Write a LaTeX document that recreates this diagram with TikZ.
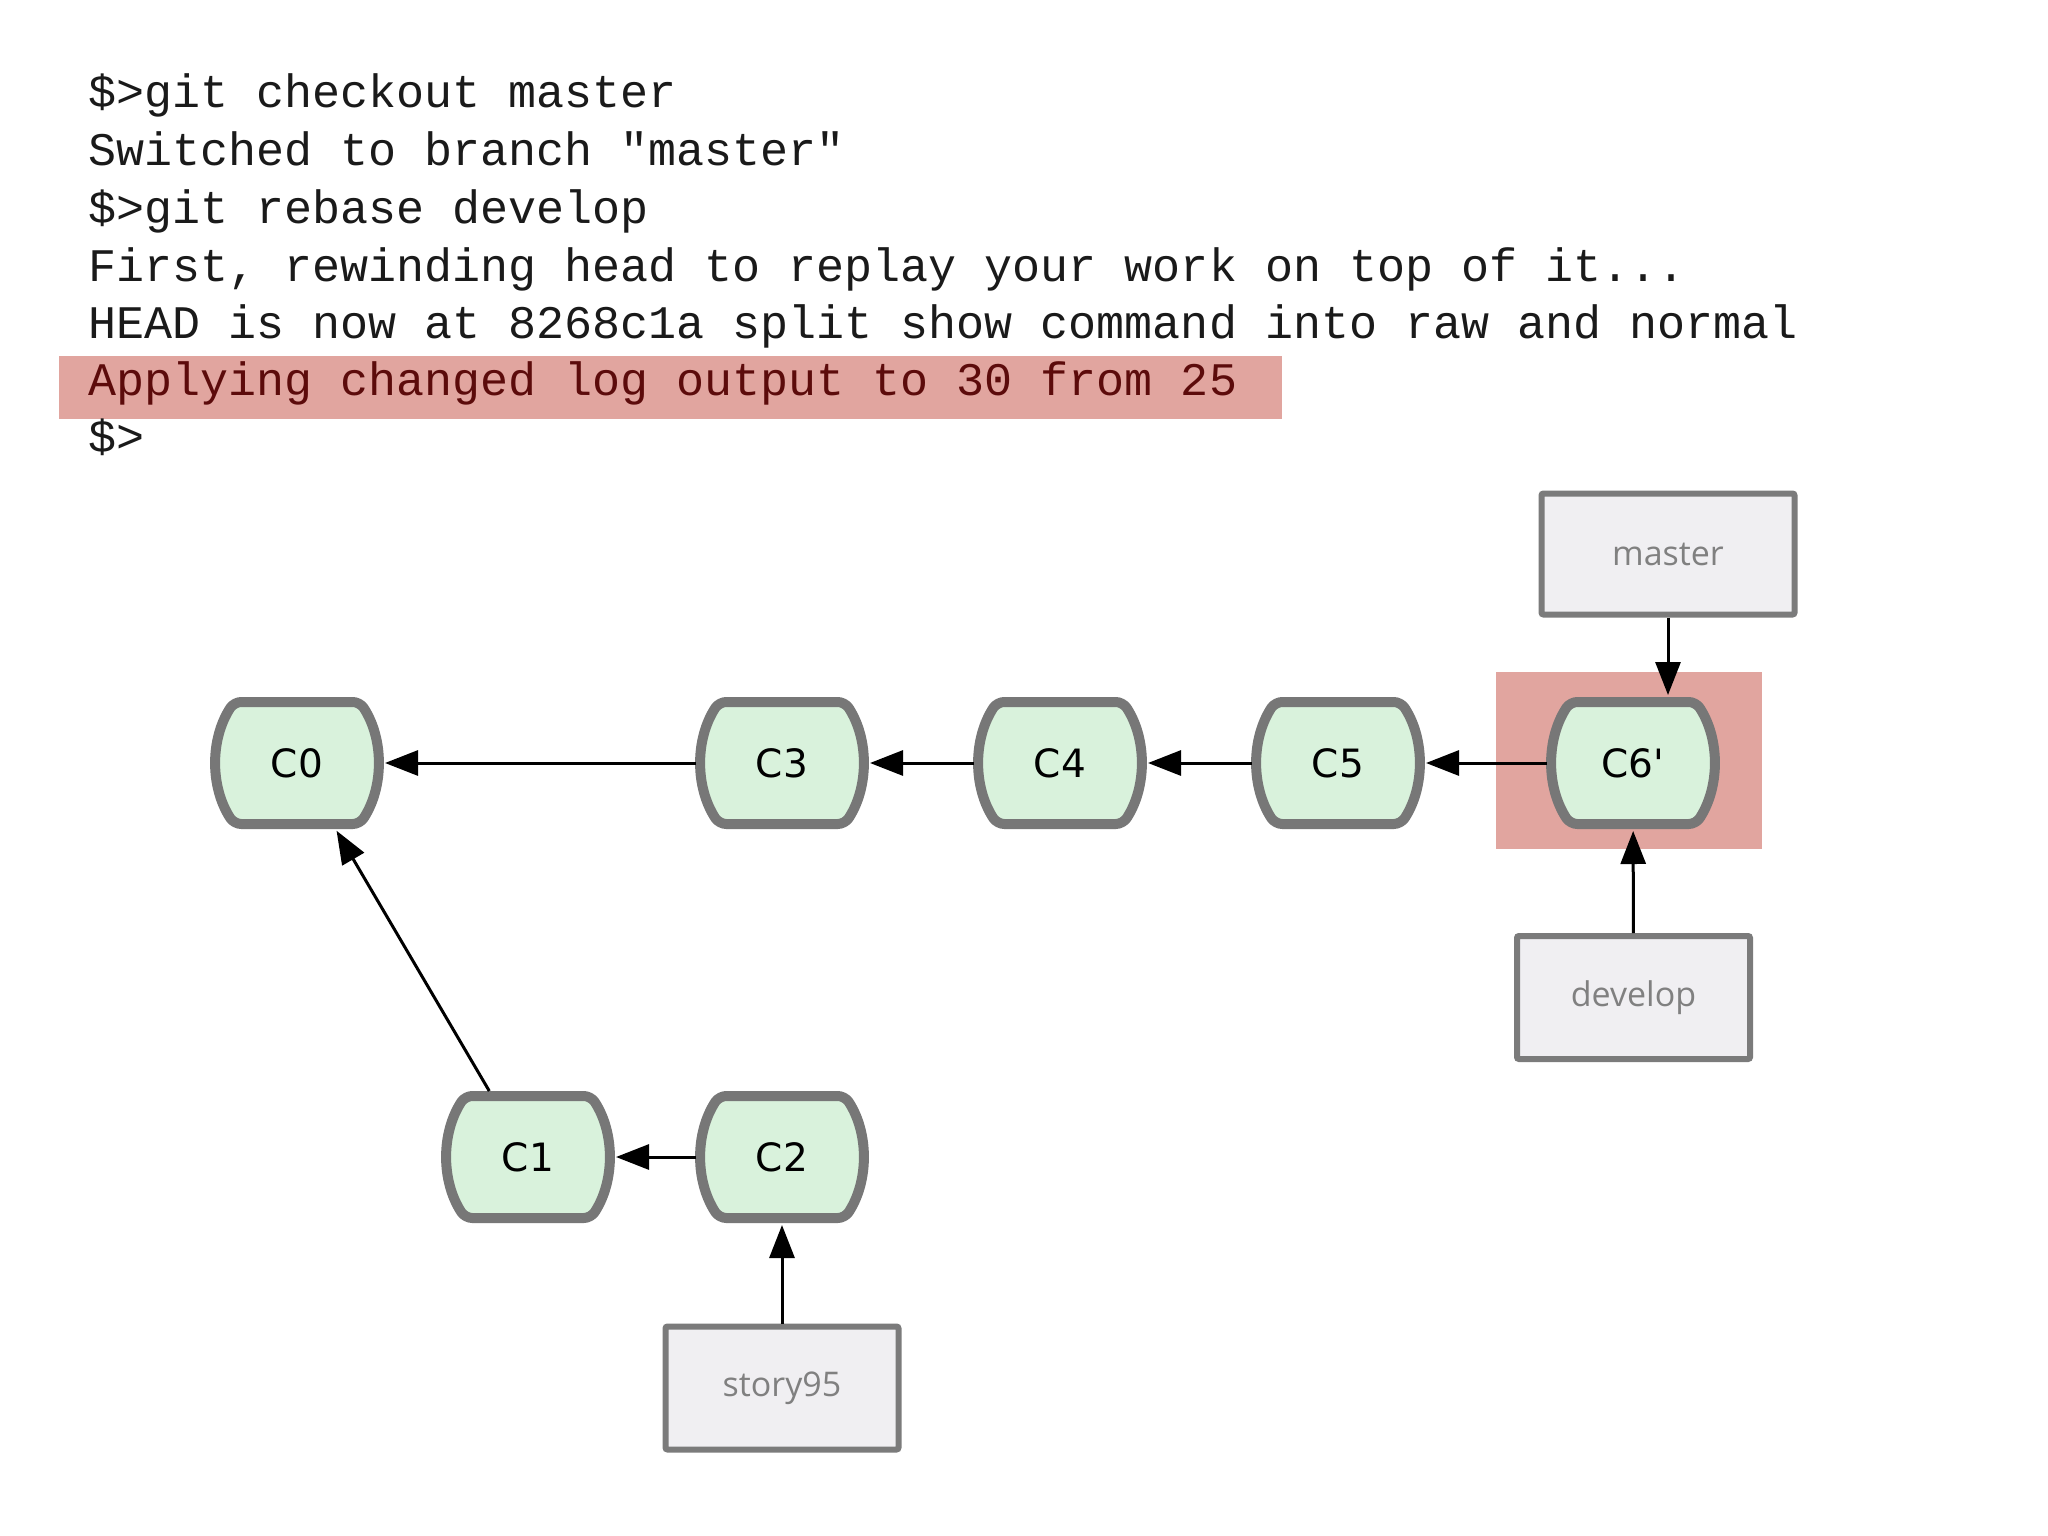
\documentclass[tikz,border=0pt]{standalone}
\usepackage{fontspec}
\usetikzlibrary{arrows.meta}
\newfontfamily\termfont{Liberation Mono}
\newfontfamily\commitfont{DejaVu Sans}[Ligatures=TeXOff]
\newfontfamily\reffont{Open Sans}
\definecolor{commitfill}{HTML}{D9F2DC}
\definecolor{commitborder}{HTML}{777777}
\definecolor{boxfill}{HTML}{F0EFF2}
\definecolor{boxborder}{HTML}{7B7B7B}
\definecolor{reftext}{HTML}{808080}
\definecolor{hl}{HTML}{E1A59F}
\definecolor{hltext}{HTML}{5C0B0B}
\definecolor{termtext}{HTML}{1A1A1A}
% commit: barrel-shaped outline drawn behind a named rectangular node
\newcommand\commitnode[3]{%
  \draw[cshape, shift={(#2)}] (0,-61) -- (62.9,-61)
     arc[start angle=-33, end angle=33, radius=112]
     -- (-62.9,61)
     arc[start angle=147, end angle=213, radius=112] -- cycle;
  \node[commit] (#1) at (#2) {#3};}
\begin{document}
\begin{tikzpicture}[x=1bp,y=-1bp,
  term/.style={anchor=base west, inner sep=0pt, text=termtext,
    font=\termfont\fontsize{46.7bp}{57bp}\selectfont},
  cshape/.style={draw=commitborder, fill=commitfill, line width=10bp,
    line join=round, rounded corners=7bp},
  commit/.style={rectangle, minimum width=172bp, minimum height=132bp,
    inner sep=0pt, outer sep=0pt,
    font=\commitfont\fontsize{39bp}{39bp}\selectfont},
  refbox/.style={rectangle, draw=boxborder, fill=boxfill, line width=6bp,
    rounded corners=2bp, minimum width=233bp, minimum height=123bp,
    inner sep=0pt, text=reftext, font=\reffont\fontsize{34bp}{34bp}\selectfont},
  arr/.style={-{Triangle[length=33bp,width=25bp]}, line width=3bp, black, shorten >=2bp}
]
\useasboundingbox[fill=white] (0,0) rectangle (2048,1536);

% terminal text
\fill[hl] (58.7,356) rectangle (1282,419);
\node[term] (l1) at (88,108) {\$>git checkout master};
\node[term] (l2) at (88,166) {Switched to branch "master"};
\node[term] (l3) at (88,223) {\$>git rebase develop};
\node[term] (l4) at (88,281) {First, rewinding head to replay your work on top of it...};
\node[term] (l5) at (88,338) {HEAD is now at 8268c1a split show command into raw and normal};
\node[term, text=hltext] (l6) at (88,395) {Applying changed log output to 30 from 25};
\node[term] (l7) at (88,452) {\$>};

% highlight behind C6'
\fill[hl] (1496,672) rectangle (1762,849);

% commits
\commitnode{C0}{297,763}{C0}
\commitnode{C3}{782,763}{C3}
\commitnode{C4}{1060,763}{C4}
\commitnode{C5}{1338,763}{C5}
\commitnode{C6}{1633,763}{C6'}
\commitnode{C1}{528,1157}{C1}
\commitnode{C2}{782,1157}{C2}

% references
\node[refbox, minimum width=253bp, minimum height=121bp] (master) at (1668,554) {master};
\node[refbox] (develop) at (1633.5,997.5) {develop};
\node[refbox] (story) at (782,1388) {story95};

% connectors
\draw[arr] (C3) -- (C0);
\draw[arr] (C4) -- (C3);
\draw[arr] (C5) -- (C4);
\draw[arr] (C6) -- (C5);
\draw[arr] (C2) -- (C1);
\draw[arr] (C1) -- (C0);
\draw[arr] (master) -- (master |- C6.north);
\draw[arr] (develop) -- (C6);
\draw[arr] (story) -- (C2);
\end{tikzpicture}
\end{document}
